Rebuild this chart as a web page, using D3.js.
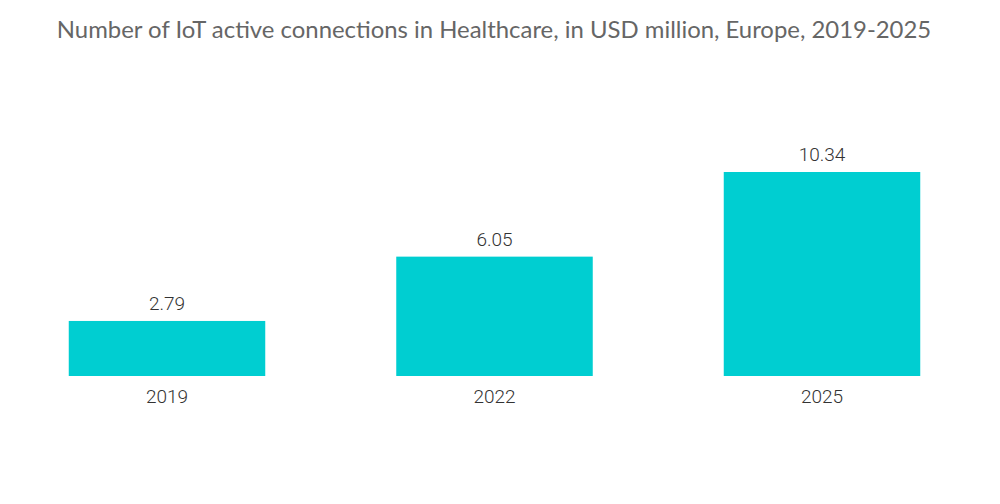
<!DOCTYPE html>
<html><head><meta charset="utf-8">
<script src="https://cdn.jsdelivr.net/npm/d3@7/dist/d3.min.js"></script>
<style>body{margin:0;background:#fff;}</style>
</head><body>
<svg id="c" width="1000" height="504"></svg>
<script>
const categories = ["2019", "2022", "2025"];
const values = [2.79, 6.05, 10.34];
const title = "Number of IoT active connections in Healthcare, in USD million, Europe, 2019-2025";

const svg = d3.select("#c");
const x = d3.scaleBand().domain(categories).range([3.25, 985.75]).paddingInner(0.4).paddingOuter(0.2);
const y = d3.scaleLinear().domain([0, 10.34]).range([376, 172]);

svg.append("text").attr("x", 494).attr("y", 38).attr("text-anchor", "middle")
  .attr("font-family", "Lato, sans-serif").attr("font-size", 23.9).attr("fill", "#666")
  .text(title);

const data = categories.map((c, i) => ({c, v: values[i]}));
svg.selectAll("rect.bar").data(data).join("rect").attr("class", "bar")
  .attr("x", d => x(d.c)).attr("width", x.bandwidth())
  .attr("y", d => y(d.v)).attr("height", d => y(0) - y(d.v))
  .attr("fill", "#00CED1");

svg.selectAll("text.val").data(data).join("text").attr("class", "val")
  .attr("x", d => x(d.c) + x.bandwidth() / 2).attr("y", d => y(d.v) - 11)
  .attr("text-anchor", "middle").attr("font-family", "Roboto, sans-serif").attr("font-weight", 300)
  .attr("font-size", 19).attr("fill", "#333").text(d => d.v.toFixed(2));

const xAxis = d3.axisBottom(x).tickSize(0).tickPadding(0);
const g = svg.append("g").attr("transform", "translate(0,376)").call(xAxis);
g.select(".domain").remove();
g.selectAll("text").attr("dy", 0).attr("y", 27).attr("font-family", "Roboto, sans-serif").attr("font-weight", 300)
  .attr("font-size", 19).attr("fill", "#333");
</script>
</body></html>
